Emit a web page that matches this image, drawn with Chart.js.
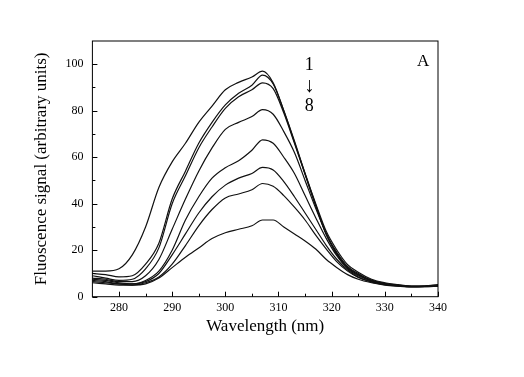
<!DOCTYPE html>
<html>
<head>
<meta charset="utf-8">
<script src="https://cdn.jsdelivr.net/npm/chart.js@4.4.1/dist/chart.umd.min.js"></script>
<style>
  html, body { margin: 0; padding: 0; background: #fff; }
</style>
</head>
<body>
<canvas id="chart" width="524" height="377"></canvas>
<script>
const wavelengths = [275, 277.5, 280, 282.5, 285, 287.5, 290, 292.5, 295, 297.5, 300, 302.5, 305, 307, 309, 311, 313, 315, 317, 319, 321, 323, 325, 327.5, 330, 332.5, 335, 337.5, 340];

const curve1 = [11, 11, 12, 18, 30, 47, 58, 66, 75, 82, 89, 92.2, 94.5, 97, 92, 80, 67, 53, 40, 28, 20, 13.8, 10.5, 7.5, 6, 5.2, 4.6, 4.6, 5];
const curve2 = [10, 9.5, 8.5, 9, 14, 23, 42, 54, 66, 75, 82.5, 87.5, 91, 95.3, 91.5, 80, 66.5, 53, 39.5, 27, 19, 13, 10, 7, 5.8, 5, 4.5, 4.6, 5.2];
const curve3 = [9, 8, 7, 7.5, 12, 21, 40, 52, 64, 73, 81, 86, 89, 92, 89.5, 79, 66, 52.5, 39, 26.5, 18.5, 12.5, 9.5, 7, 5.5, 4.8, 4.3, 4.4, 5];
const curve4 = [8, 7.5, 6.5, 6.5, 9, 16, 29, 42, 54, 64, 72, 75, 77.5, 80.5, 78.5, 71, 62, 50, 38, 27, 18, 12.5, 9.5, 7, 5.5, 4.8, 4.5, 4.5, 4.8];
const curve5 = [7.5, 7, 6, 5.5, 7, 11, 20, 33, 43, 51, 55.5, 58.5, 63, 67.5, 66, 60, 53, 43.5, 34, 25, 17.5, 12, 9, 6.8, 5.5, 4.8, 4.4, 4.5, 4.8];
const curve6 = [7, 6.5, 5.5, 5.5, 6.5, 10, 18, 27, 36, 43, 48, 51, 53, 55.6, 54.5, 49.5, 43, 36, 29, 22, 16, 11.5, 8.5, 6.5, 5.3, 4.7, 4.3, 4.4, 4.7];
const curve7 = [6.5, 6, 5.5, 5, 6, 8.5, 14, 22, 30.5, 37.5, 42.5, 44.2, 46, 48.7, 47.5, 43.5, 38.5, 33, 26.5, 20.5, 15, 11, 8.3, 6.3, 5.2, 4.6, 4.3, 4.3, 4.6];
const curve8 = [6, 5.5, 5, 5, 5.5, 8, 12.5, 17, 21, 25, 27.5, 29, 30.5, 33, 33, 30, 27, 24, 20.5, 16, 12.5, 9.5, 7.5, 6, 5, 4.5, 4.2, 4.3, 4.5];

const curves = [curve1, curve2, curve3, curve4, curve5, curve6, curve7, curve8];

const xTicks = [280, 290, 300, 310, 320, 330, 340];
const xMinorTicks = [285, 295, 305, 315, 325, 335];
const yTicks = [0, 20, 40, 60, 80, 100];
const yMinorTicks = [10, 30, 50, 70, 90];

const serif = "'Liberation Serif', 'Times New Roman', serif";

const framePlugin = {
  id: 'frame',
  afterDraw(chart) {
    const { ctx, chartArea: a, scales: { x, y } } = chart;
    ctx.save();
    ctx.strokeStyle = '#000';
    ctx.lineWidth = 1;
    ctx.strokeRect(a.left, a.top, a.right - a.left, a.bottom - a.top);

    ctx.beginPath();
    xTicks.forEach(v => {
      const px = Math.round(x.getPixelForValue(v)) + 0.5;
      ctx.moveTo(px, a.bottom); ctx.lineTo(px, a.bottom - 5);
    });
    xMinorTicks.forEach(v => {
      const px = Math.round(x.getPixelForValue(v)) + 0.5;
      ctx.moveTo(px, a.bottom); ctx.lineTo(px, a.bottom - 3);
    });
    yTicks.forEach(v => {
      const py = Math.round(y.getPixelForValue(v)) + 0.5;
      ctx.moveTo(a.left, py); ctx.lineTo(a.left + 5, py);
    });
    yMinorTicks.forEach(v => {
      const py = Math.round(y.getPixelForValue(v)) + 0.5;
      ctx.moveTo(a.left, py); ctx.lineTo(a.left + 3, py);
    });
    ctx.stroke();

    // labels inside the plot
    ctx.fillStyle = '#000';
    ctx.textAlign = 'center';
    ctx.textBaseline = 'middle';
    const lx = x.getPixelForValue(315.8);
    ctx.font = '18px ' + serif;
    ctx.fillText('1', lx, y.getPixelForValue(99.5));
    ctx.fillText('8', lx, y.getPixelForValue(81.8));
    ctx.font = '21px ' + serif;
    ctx.fillText('\u2193', lx, y.getPixelForValue(90.3));
    ctx.font = '17px ' + serif;
    ctx.fillText('A', x.getPixelForValue(337.2), y.getPixelForValue(101));
    ctx.restore();
  }
};

const ctx = document.getElementById('chart').getContext('2d');

new Chart(ctx, {
  type: 'line',
  data: {
    datasets: curves.map((c, i) => ({
      label: String(i + 1),
      data: wavelengths.map((w, j) => ({ x: w, y: c[j] })),
      borderColor: '#111',
      borderWidth: 1.2,
      pointRadius: 0,
      fill: false,
      cubicInterpolationMode: 'monotone'
    }))
  },
  options: {
    responsive: false,
    animation: false,
    layout: { padding: { left: 31, right: 86, top: 41, bottom: 40 } },
    plugins: {
      legend: { display: false },
      tooltip: { enabled: false }
    },
    scales: {
      x: {
        type: 'linear',
        min: 275,
        max: 340,
        afterBuildTicks: s => { s.ticks = xTicks.map(v => ({ value: v })); },
        grid: { display: false, drawTicks: false },
        border: { display: false },
        ticks: { color: '#000', padding: 4, maxRotation: 0, font: { family: serif, size: 12 } },
        title: { display: true, text: 'Wavelength (nm)', color: '#000', padding: { top: -2.5, bottom: 0 }, font: { family: serif, size: 17 } }
      },
      y: {
        min: 0,
        max: 110,
        afterBuildTicks: s => { s.ticks = yTicks.map(v => ({ value: v })); },
        grid: { display: false, drawTicks: false },
        border: { display: false },
        ticks: { color: '#000', padding: 9, font: { family: serif, size: 12 } },
        title: { display: true, text: 'Fluoscence signal (arbitrary units)', color: '#000', padding: { top: 0, bottom: 5 }, font: { family: serif, size: 17 } }
      }
    }
  },
  plugins: [framePlugin]
});
</script>
</body>
</html>
